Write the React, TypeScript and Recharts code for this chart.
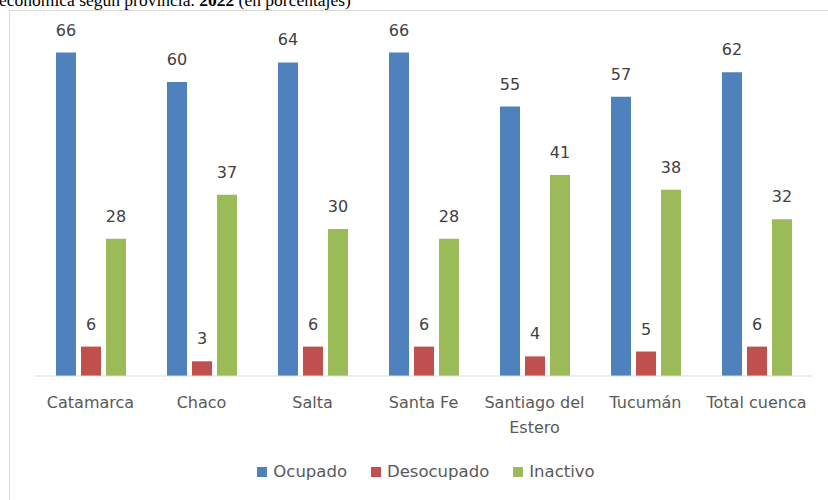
import { BarChart, Bar, XAxis, YAxis, Legend, LabelList } from 'recharts'

const provincias = ['Catamarca', 'Chaco', 'Salta', 'Santa Fe', 'Santiago del Estero', 'Tucumán', 'Total cuenca']
const ocupado = [66, 60, 64, 66, 55, 57, 62]
const desocupado = [6, 3, 6, 6, 4, 5, 6]
const inactivo = [28, 37, 30, 28, 41, 38, 32]

const series = [
  { key: 'ocupado', name: 'Ocupado', color: '#4F81BD' },
  { key: 'desocupado', name: 'Desocupado', color: '#C0504D' },
  { key: 'inactivo', name: 'Inactivo', color: '#9BBB59' },
]

const data = provincias.map((name, i) => ({
  name,
  ocupado: ocupado[i],
  desocupado: desocupado[i],
  inactivo: inactivo[i],
}))

const FONT = '"DejaVu Sans", sans-serif'

// long labels wrap at the last space, like Excel does here
function ProvinciaTick(props: any) {
  const { x, y, payload } = props
  const label: string = payload.value
  let lines = [label]
  if (label.length > 14) {
    const cut = label.lastIndexOf(' ')
    lines = [label.slice(0, cut), label.slice(cut + 1)]
  }
  return (
    <text x={x} y={y} textAnchor="middle" fill="#595959" fontSize={16} fontFamily={FONT}>
      {lines.map((l, i) => (
        <tspan key={i} x={x} dy={i === 0 ? 24 : 25}>
          {l}
        </tspan>
      ))}
    </text>
  )
}

function LegendContent() {
  return (
    <div
      style={{
        display: 'flex',
        justifyContent: 'center',
        height: 20,
        lineHeight: '20px',
        paddingLeft: 48,
        fontFamily: FONT,
        fontSize: 16.5,
        color: '#595959',
      }}
    >
      {series.map((s) => (
        <div key={s.key} style={{ display: 'flex', alignItems: 'center', marginRight: 24 }}>
          <span style={{ width: 10, height: 10, background: s.color, marginRight: 6 }} />
          {s.name}
        </div>
      ))}
    </div>
  )
}

export default function App() {
  return (
    <div style={{ position: 'absolute', left: 0, top: 0, width: 828, height: 500, overflow: 'hidden', background: '#fff' }}>
      <div style={{ position: 'absolute', left: -1, top: -8, whiteSpace: 'nowrap', fontFamily: '"Liberation Serif", serif', fontSize: 17.5, lineHeight: '16px', color: '#000' }}>
        económica según provincia. <b>2022</b> (en porcentajes)
      </div>
      <div style={{ position: 'absolute', left: 9, top: 10, width: 830, height: 500, border: '1px solid #d9d9d9', background: '#fff' }} />
      <div style={{ position: 'absolute', left: 0, top: 0 }}>
        <BarChart width={828} height={500} data={data} margin={{ top: 33, right: 16, left: 35, bottom: 18 }} barSize={20} barGap={5}>
          <XAxis dataKey="name" interval={0} tickLine={false} axisLine={{ stroke: '#d9d9d9' }} height={86} tick={<ProvinciaTick />} />
          <YAxis hide domain={[0, 70]} />
          <Legend verticalAlign="bottom" content={<LegendContent />} wrapperStyle={{ left: 0, width: 828 }} />
          {series.map((s) => (
            <Bar key={s.key} dataKey={s.key} name={s.name} fill={s.color} isAnimationActive={false}>
              <LabelList dataKey={s.key} position="top" offset={17} fill="#404040" fontSize={16} fontFamily={FONT} />
            </Bar>
          ))}
        </BarChart>
      </div>
    </div>
  )
}
